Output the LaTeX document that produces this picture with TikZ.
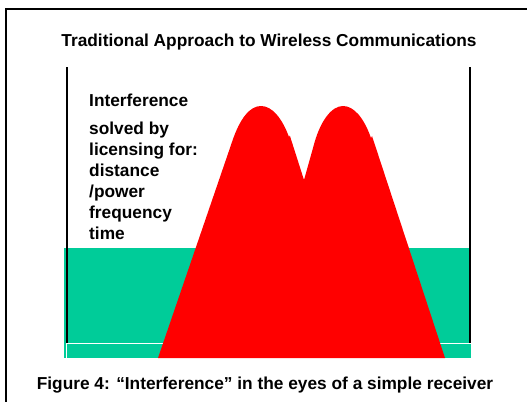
\documentclass[tikz,border=0pt]{standalone}
\usepackage{fontspec}
\setmainfont{Liberation Sans}
\definecolor{teal}{RGB}{0,204,153}
\begin{document}
\begin{tikzpicture}[x=1pt,y=-1pt,
  txt/.style={font=\fontsize{17.3}{20}\selectfont\bfseries, inner sep=0pt},
  frameline/.style={line width=2pt, black},
  innerline/.style={line width=2pt, black}]
\useasboundingbox (0,0) rectangle (527,402);
% outer frame (left and top edges)
\coordinate (ftr) at (527,9);
\coordinate (ftl) at (6,9);
\coordinate (fbl) at (6,402);
\draw[frameline] (ftr) -- (ftl) -- (fbl);
% green band
\fill[teal] (64,248) rectangle (471,358);
% inner black verticals
\coordinate (lt) at (67,67);
\coordinate (lb) at (67,343);
\coordinate (rt) at (470,67);
\coordinate (rb) at (470,343);
\draw[innerline] (lt) -- (lb);
\draw[innerline] (rt) -- (rb);
% white line
\coordinate (wl) at (66,358);
\coordinate (wlt) at (66,343);
\coordinate (wrt) at (471,343);
\draw[white, line width=1pt] (wl) -- (wlt) -- (wrt);
% red double hump
\fill[red] (158,358) -- (232,142)
  .. controls (240,118) and (250,106) .. (261,106)
  .. controls (272,106) and (282,118) .. (289,137)
  -- (289.8,135.5) -- (304,180) -- (313,148)
  .. controls (320,120) and (332,106) .. (343,106)
  .. controls (354,106) and (364,118) .. (371,138)
  -- (372,136) -- (445,358) -- cycle;
% texts
\node[txt, anchor=base] (title) at (269,46) {Traditional Approach to Wireless Communications};
\node[txt, anchor=base west] (l1) at (89,106) {Interference};
\node[txt, anchor=base west] (l2) at (89,134) {solved by};
\node[txt, anchor=base west] (l3) at (89,155) {licensing for:};
\node[txt, anchor=base west] (l4) at (89,176) {distance};
\node[txt, anchor=base west] (l5) at (89,197) {/power};
\node[txt, anchor=base west] (l6) at (89,218) {frequency};
\node[txt, anchor=base west] (l7) at (89,239) {time};
\node[txt, anchor=base] (cap) at (265,389) {Figure 4: “Interference” in the eyes of a simple receiver};
\end{tikzpicture}
\end{document}
